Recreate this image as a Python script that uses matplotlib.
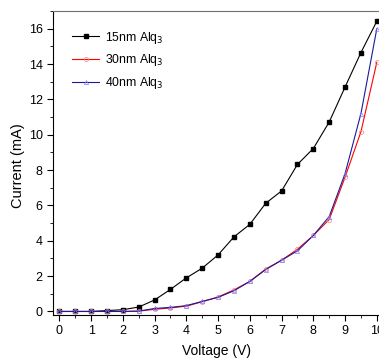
import matplotlib
matplotlib.use("Agg")
import matplotlib.pyplot as plt
from matplotlib.ticker import MultipleLocator

plt.rcParams['font.family'] = ['Liberation Sans', 'DejaVu Sans']

# data
voltage = [0, 0.5, 1, 1.5, 2, 2.5, 3, 3.5, 4, 4.5, 5, 5.5, 6, 6.5, 7, 7.5, 8, 8.5, 9, 9.5, 10]
i_15nm = [0, 0, 0, 0.05, 0.1, 0.25, 0.65, 1.25, 1.9, 2.45, 3.2, 4.22, 4.93, 6.12, 6.82, 8.32, 9.22, 10.72, 12.7, 14.65, 16.42]
i_30nm = [0, 0, 0, 0, 0, 0.02, 0.12, 0.2, 0.3, 0.55, 0.82, 1.22, 1.7, 2.4, 2.9, 3.52, 4.3, 5.2, 7.6, 10.17, 14.1]
i_40nm = [0, 0, 0, 0, 0, 0.02, 0.17, 0.23, 0.33, 0.57, 0.8, 1.17, 1.7, 2.37, 2.9, 3.43, 4.3, 5.37, 7.8, 11.2, 16.0]
labels = ['15nm Alq$_3$', '30nm Alq$_3$', '40nm Alq$_3$']

fig = plt.figure(figsize=(3.79, 3.58), dpi=100)
ax = fig.add_axes([53/379, 43/358, 327/379, 304/358])

ax.plot(voltage, i_15nm, color='black', lw=0.8, marker='s', ms=2.5, label=labels[0])
ax.plot(voltage, i_30nm, color='red', lw=0.8, marker='o', ms=3, mfc='none', mew=0.5,
        mec='#ff8080', label=labels[1])
ax.plot(voltage, i_40nm, color='#1a1a9a', lw=0.8, marker='^', ms=3, mfc='none', mew=0.5,
        mec='#8080ff', label=labels[2])

ax.set_xlim(-0.2, 10.1)
ax.set_ylim(-0.2, 17)
ax.xaxis.set_major_locator(MultipleLocator(1))
ax.xaxis.set_minor_locator(MultipleLocator(0.5))
ax.yaxis.set_major_locator(MultipleLocator(2))
ax.yaxis.set_minor_locator(MultipleLocator(1))
ax.tick_params(which='major', direction='out', length=4, width=0.8, labelsize=9)
ax.tick_params(which='minor', direction='out', length=2, width=0.6)
ax.tick_params(top=False, right=False)
ax.spines['right'].set_visible(False)
ax.spines['top'].set_color('#707070')

ax.set_xlabel('Voltage (V)', fontsize=10, labelpad=5)
ax.set_ylabel('Current (mA)', fontsize=10.5)
ax.yaxis.set_label_coords(-0.085, 0.49)

ax.legend(loc='upper left', frameon=False, fontsize=8.8, handlelength=2.2,
          handletextpad=0.5, numpoints=1, bbox_to_anchor=(0.025, 0.975),
          labelspacing=0.55)

fig.savefig('out.png', dpi=100)
